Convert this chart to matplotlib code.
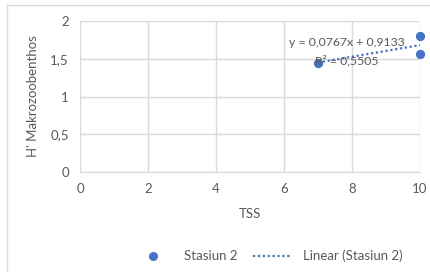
import numpy as np
import matplotlib
matplotlib.use("Agg")
import matplotlib.pyplot as plt
from matplotlib.lines import Line2D

tss = [7, 10, 10]
h_makro = [1.45, 1.80, 1.56]
slope = 0.0767
intercept = 0.9133
r2 = 0.5505
x_ticks = [0, 2, 4, 6, 8, 10]
y_ticks = [0, 0.5, 1, 1.5, 2]

blue = "#4472C4"
txt = "#595959"
grid = "#d9d9d9"

plt.rcParams["font.family"] = ["Lato", "DejaVu Sans"]

fig = plt.figure(figsize=(4.3, 2.72), dpi=100)
ax = fig.add_axes([80 / 430, 1 - 172 / 272, 340 / 430, 151 / 272])

# trendline over the data range
xs = np.array([min(tss), max(tss)])
ax.plot(xs, slope * xs + intercept, color=blue, linestyle=(0, (1, 1.2)), linewidth=1.6, zorder=2)
ax.scatter(tss, h_makro, s=32, color=blue, zorder=3, clip_on=False)

ax.set_xlim(0, 10)
ax.set_ylim(0, 2)
ax.set_xticks(x_ticks)
ax.set_yticks(y_ticks)
ax.set_xticklabels([str(t) for t in x_ticks])
ax.set_yticklabels([f"{t:g}".replace(".", ",") for t in y_ticks])
ax.grid(True, color=grid, linewidth=1)
ax.set_axisbelow(True)
for s in ["top", "right", "left"]:
    ax.spines[s].set_visible(False)
ax.spines["bottom"].set_color(grid)
ax.tick_params(length=0, colors=txt, labelsize=9.5, pad=8)

ax.set_xlabel("TSS", color=txt, fontsize=9.5, labelpad=9)
ax.set_ylabel("H' Makrozoobenthos", color=txt, fontsize=9.5, labelpad=8)

ax.text(7.85, 1.71, f"y = {slope:.4f}x + {intercept:.4f}".replace(".", ","),
        color=txt, fontsize=8.8, ha="center", va="center")
ax.text(7.85, 1.48, f"R² = {r2:.4f}".replace(".", ","),
        color=txt, fontsize=8.8, ha="center", va="center")

handles = [Line2D([], [], marker="o", color=blue, linestyle="none", markersize=5.5),
           Line2D([], [], color=blue, linestyle=(0, (1, 1.2)), linewidth=1.6)]
fig.legend(handles, ["Stasiun 2", "Linear (Stasiun 2)"], loc="center",
           bbox_to_anchor=(268 / 430, 1 - 256 / 272), ncol=2, frameon=False,
           fontsize=9.5, labelcolor=txt, handlelength=3, columnspacing=1.2)

# chart border (only left and top visible in the crop)
fig.add_artist(Line2D([7 / 430, 7 / 430], [0, 1 - 5 / 272], transform=fig.transFigure, color=grid, linewidth=1))
fig.add_artist(Line2D([7 / 430, 1], [1 - 5 / 272, 1 - 5 / 272], transform=fig.transFigure, color=grid, linewidth=1))

fig.savefig("out.png", dpi=100)
